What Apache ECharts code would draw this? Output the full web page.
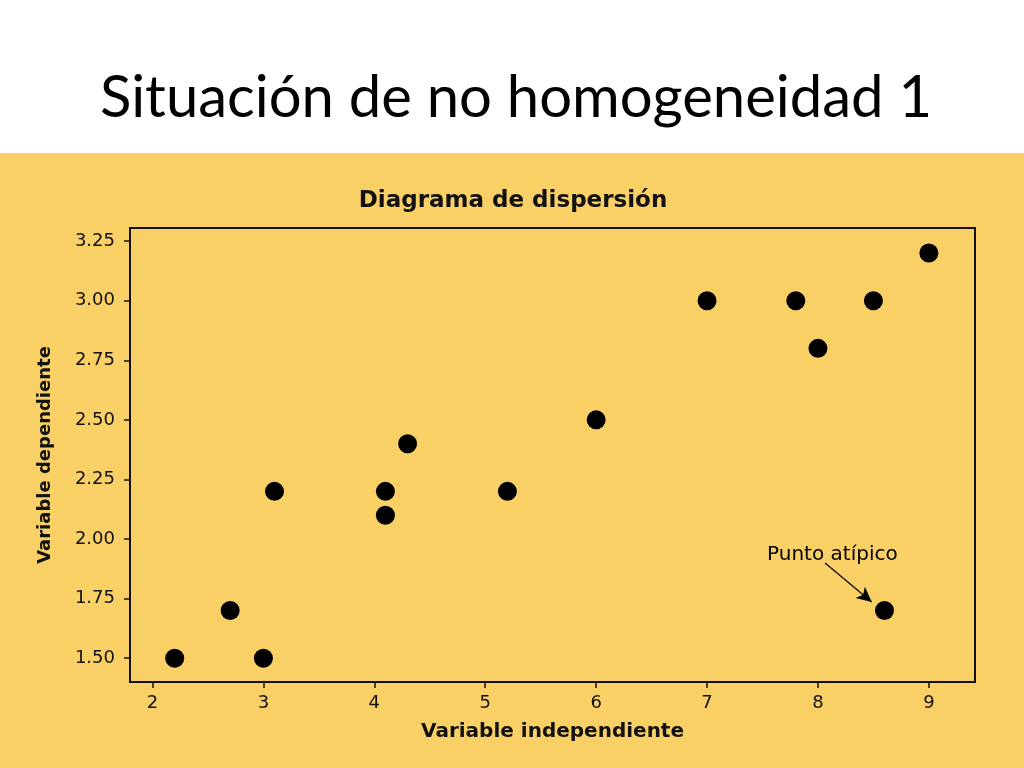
<!DOCTYPE html>
<html><head><meta charset="utf-8">
<script src="https://cdn.jsdelivr.net/npm/echarts@6/dist/echarts.min.js"></script>
<style>html,body{margin:0;padding:0;background:#fff}#c{width:1024px;height:768px}</style>
</head><body><div id="c"></div>
<script>
const xValues = [2.2, 2.7, 3.0, 3.1, 4.1, 4.1, 4.3, 5.2, 6.0, 7.0, 7.8, 8.0, 8.5, 9.0, 8.6];
const yValues = [1.5, 1.7, 1.5, 2.2, 2.2, 2.1, 2.4, 2.2, 2.5, 3.0, 3.0, 2.8, 3.0, 3.2, 1.7];
const xTicks = [2, 3, 4, 5, 6, 7, 8, 9];
const yTicks = [1.5, 1.75, 2.0, 2.25, 2.5, 2.75, 3.0, 3.25];
const annotationText = 'Punto atípico';
const annotationLabelAt = [8.13, 1.932];
const annotationArrow = [[8.064, 1.899], [8.485, 1.736]];

const points = xValues.map((x, i) => [x, yValues[i]]);
const chart = echarts.init(document.getElementById('c'));
const yellow = '#F9D066';
const tickFont = {color: '#111', fontFamily: 'DejaVu Sans', fontSize: 18};
chart.setOption({
  animation: false,
  backgroundColor: '#fff',
  graphic: [{type: 'rect', z: -10, shape: {x: 0, y: 153, width: 1024, height: 615}, style: {fill: yellow}}],
  title: [
    {text: 'Situación de no homogeneidad 1', left: 511, top: 64, textAlign: 'center',
     textStyle: {fontFamily: 'Lato', fontSize: 58, fontWeight: 'normal', color: '#000'}},
    {text: 'Diagrama de dispersión', left: 508, top: 185, textAlign: 'center',
     textStyle: {fontFamily: 'DejaVu Sans', fontSize: 23, fontWeight: 'bold', color: '#111'}}
  ],
  grid: {left: 130, top: 228, right: 49, bottom: 86, show: true, borderColor: '#111', borderWidth: 2, backgroundColor: 'transparent'},
  xAxis: {
    type: 'value', min: 1.797, max: 9.416,
    name: 'Variable independiente', nameLocation: 'middle', nameGap: 40,
    nameTextStyle: {fontFamily: 'DejaVu Sans', fontSize: 20, fontWeight: 'bold', color: '#111'},
    axisLine: {show: true, lineStyle: {color: '#111', width: 2}},
    axisTick: {show: true, length: 6, customValues: xTicks, lineStyle: {color: '#111', width: 1.5}},
    axisLabel: Object.assign({customValues: xTicks, margin: 12, formatter: v => String(v)}, tickFont),
    splitLine: {show: false}
  },
  yAxis: {
    type: 'value', min: 1.40, max: 3.305,
    name: 'Variable dependiente', nameLocation: 'middle', nameGap: 76,
    nameTextStyle: {fontFamily: 'DejaVu Sans', fontSize: 18, fontWeight: 'bold', color: '#111'},
    axisLine: {show: true, lineStyle: {color: '#111', width: 2}},
    axisTick: {show: true, length: 6, customValues: yTicks, lineStyle: {color: '#111', width: 1.5}},
    axisLabel: Object.assign({customValues: yTicks, margin: 15, formatter: v => v.toFixed(2)}, tickFont),
    splitLine: {show: false}
  },
  series: [
    {type: 'scatter', data: points, symbol: 'circle', symbolSize: 19, itemStyle: {color: '#000', opacity: 1}, z: 3},
    {type: 'scatter', data: [annotationLabelAt], symbolSize: 0, silent: true, itemStyle: {opacity: 1},
     label: {show: true, position: 'inside', formatter: annotationText, fontFamily: 'DejaVu Sans', fontSize: 20,
       color: '#000', opacity: 1, textBorderWidth: 0},
     markLine: {silent: true, symbol: ['none', 'arrow'], symbolSize: [11, 15], label: {show: false},
       lineStyle: {color: '#000', width: 1.2, type: 'solid', opacity: 1},
       data: [[{coord: annotationArrow[0]}, {coord: annotationArrow[1]}]]}}
  ]
});
</script></body></html>
